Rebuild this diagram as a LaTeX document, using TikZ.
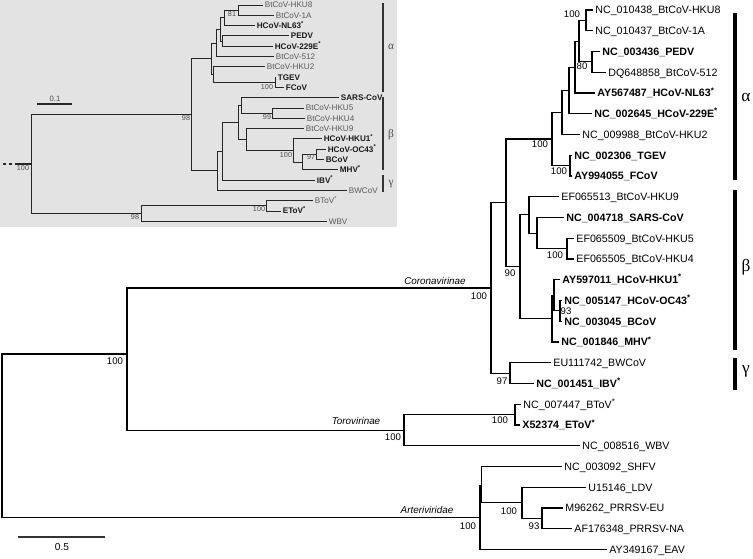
\documentclass[tikz,border=0pt]{standalone}
\usepackage{fontspec}
\setmainfont{Liberation Sans}
\newfontfamily\grk{Liberation Serif}
\newcommand{\vstar}{\textsuperscript{*}}

\begin{document}
\begin{tikzpicture}[x=0.75pt,y=-0.75pt,
  br/.style={line width=0.85pt, black},
  leaf/.style={anchor=west, inner sep=1.6pt, text height=5.8pt, text depth=0pt, font=\fontsize{8}{9}\selectfont},
  bleaf/.style={leaf, font=\fontsize{8}{9}\selectfont\bfseries},
  bs/.style={inner sep=0pt, font=\fontsize{7.2}{8}\selectfont},
  fam/.style={inner sep=0pt, font=\fontsize{7.4}{8}\selectfont\itshape},
  ibr/.style={line width=0.65pt, black!85},
  ileaf/.style={anchor=west, inner sep=1.2pt, text height=4.4pt, text depth=0pt, font=\fontsize{6.1}{7}\selectfont, text=black!65},
  ibold/.style={ileaf, text=black!90, font=\fontsize{6.1}{7}\selectfont\bfseries},
  ibs/.style={inner sep=0pt, font=\fontsize{5.4}{6}\selectfont, text=black!70},
  clade/.style={line width=2.6pt},
  greek/.style={inner sep=0pt, font=\grk\fontsize{13}{14}\selectfont},
  igreek/.style={inner sep=0pt, font=\grk\fontsize{8.5}{9}\selectfont, text=black!70},
]
\useasboundingbox (0,0) rectangle (753,558);

% inset
\fill[black!11] (0,0) rectangle (397,227);
\coordinate (istub) at (3,164.2);
\coordinate (istub2) at (18,164.2);
\coordinate (iroot) at (31,164.2);
\coordinate (icor) at (191,114.8);
\coordinate (ialp) at (211,58.8);
\coordinate (i5) at (216,43);
\coordinate (i4) at (220,29.5);
\coordinate (i2) at (224,17.9);
\coordinate (i1) at (238,10.15);
\coordinate (i3) at (222,41.05);
\coordinate (i6) at (213,74.5);
\coordinate (itf) at (275,82.25);
\coordinate (ibg) at (217,170.9);
\coordinate (ig) at (222,151.3);
\coordinate (ib) at (238,122.5);
\coordinate (ib1) at (241,105.4);
\coordinate (ib3) at (272,113.2);
\coordinate (ib2) at (246,139.6);
\coordinate (ib4) at (293,150.5);
\coordinate (ib5) at (302,162.1);
\coordinate (ib6) at (316,154.4);
\coordinate (itor) at (141,213.6);
\coordinate (ibt) at (266,205.9);

\draw[ibr, line width=1.4pt, dash pattern=on 2.4pt off 2pt] (istub) -- (istub2);
\draw[ibr, line width=1.4pt] (istub2) -- (iroot);
\foreach \p/\c in {iroot/icor, iroot/itor, icor/ialp, icor/ibg, ialp/i5, ialp/i6,
  i5/i4, i4/i2, i4/i3, i2/i1, i6/itf, ibg/ig, ig/ib, ib/ib1, ib/ib2, ib1/ib3,
  ib2/ib4, ib4/ib5, ib5/ib6, itor/ibt}
  \draw[ibr] (\p) |- (\c);

\foreach \p/\n/\xx/\i/\s/\t in {
  i1/k1/263/0/ileaf/BtCoV-HKU8,
  i1/k2/274/1/ileaf/BtCoV-1A,
  i2/k3/255/2/ibold/HCoV-NL63\vstar,
  i3/k4/289/3/ibold/PEDV,
  i3/k5/273/4/ibold/HCoV-229E\vstar,
  i5/k6/274/5/ileaf/BtCoV-512,
  i6/k7/265/6/ileaf/BtCoV-HKU2,
  itf/k8/276/7/ibold/TGEV,
  itf/k9/284/8/ibold/FCoV,
  ib1/k10/339/9/ibold/SARS-CoV,
  ib3/k11/304/10/ileaf/BtCoV-HKU5,
  ib3/k12/305/11/ileaf/BtCoV-HKU4,
  ib2/k13/304/12/ileaf/BtCoV-HKU9,
  ib4/k14/322/13/ibold/HCoV-HKU1\vstar,
  ib6/k15/326/14/ibold/HCoV-OC43\vstar,
  ib6/k16/324/15/ibold/BCoV,
  ib5/k17/338/16/ibold/MHV\vstar,
  ig/k18/315/17/ibold/IBV\vstar,
  ibg/k19/347/18/ileaf/BWCoV,
  ibt/k20/313/19/ileaf/BToV\vstar,
  ibt/k21/281/20/ibold/EToV\vstar,
  itor/k22/327/21/ileaf/WBV}
{
  \node[\s] (\n) at (\xx,{5+10.3*\i}) {\t};
  \draw[ibr] (\p) |- (\n.west);
}

\foreach \n/\xx/\yy/\t in {t1/23/168/100, t2/186/118/98, t3/232/14/81, t4/267/87/100,
  t5/267/117/99, t6/286/155/100, t7/311/157/97, t8/135/217/98, t9/259/209/100}
  \node[ibs] (\n) at (\xx,\yy) {\t};

\draw[ibr, line width=0.8pt] (37,104) -- (72,104);
\node[ibs, font=\fontsize{5.8}{6}\selectfont] (iscale) at (55,98.5) {0.1};
\draw[black!80, line width=1.5pt] (383,3) -- (383,92);
\draw[black!80, line width=1.5pt] (383,97) -- (383,170);
\draw[black!80, line width=1.5pt] (383,175) -- (383,192);
\node[igreek] (ia) at (391,47) {α};
\node[igreek] (ibeta) at (391,135) {β};
\node[igreek] (igam) at (391,184) {γ};

% main tree
\coordinate (root) at (2,435.5);
\coordinate (cvd) at (127,354);
\coordinate (cor) at (491,288);
\coordinate (ab) at (506,202.9);
\coordinate (alp) at (552,139);
\coordinate (m6) at (562,112.5);
\coordinate (m5) at (569,90.4);
\coordinate (m4) at (575,67.1);
\coordinate (m3) at (579,41.1);
\coordinate (m1) at (586,20.4);
\coordinate (m2) at (592,61.9);
\coordinate (tf) at (570,165.6);
\coordinate (bet) at (520,266.8);
\coordinate (b1) at (529,214.9);
\coordinate (b2) at (537,233.1);
\coordinate (b3) at (567,248.6);
\coordinate (b4) at (552,318.7);
\coordinate (c1) at (554,295.3);
\coordinate (b5) at (560,310.9);
\coordinate (gam) at (510,373.1);
\coordinate (tor) at (404,430.2);
\coordinate (bt) at (515,414.6);
\coordinate (art) at (480,517.5);
\coordinate (n1) at (481.5,485.5);
\coordinate (ld) at (522,502.8);
\coordinate (pr) at (542,518.4);

\foreach \p/\c in {root/cvd, root/art, cvd/cor, cvd/tor, cor/ab, cor/gam, ab/alp, ab/bet,
  alp/m6, alp/tf, m6/m5, m5/m4, m4/m3, m3/m1, m3/m2, bet/b1, bet/b4, b1/b2, b2/b3,
  b4/c1, c1/b5, tor/bt, art/n1, n1/ld, ld/pr}
  \draw[br] (\p) |- (\c);

\foreach \p/\n/\xx/\i/\s/\t in {
  m1/l1/593/0/leaf/NC\_010438\_BtCoV-HKU8,
  m1/l2/593/1/leaf/NC\_010437\_BtCoV-1A,
  m2/l3/600/2/bleaf/NC\_003436\_PEDV,
  m2/l4/606/3/leaf/DQ648858\_BtCoV-512,
  m4/l5/595/4/bleaf/AY567487\_HCoV-NL63\vstar,
  m5/l6/592/5/bleaf/NC\_002645\_HCoV-229E\vstar,
  m6/l7/580/6/leaf/NC\_009988\_BtCoV-HKU2,
  tf/l8/572/7/bleaf/NC\_002306\_TGEV,
  tf/l9/572/8/bleaf/AY994055\_FCoV,
  b1/l10/559/9/leaf/EF065513\_BtCoV-HKU9,
  b2/l11/564/10/bleaf/NC\_004718\_SARS-CoV,
  b3/l12/574/11/leaf/EF065509\_BtCoV-HKU5,
  b3/l13/574/12/leaf/EF065505\_BtCoV-HKU4,
  c1/l14/560/13/bleaf/AY597011\_HCoV-HKU1\vstar,
  b5/l15/562/14/bleaf/NC\_005147\_HCoV-OC43\vstar,
  b5/l16/562/15/bleaf/NC\_003045\_BCoV,
  b4/l17/559/16/bleaf/NC\_001846\_MHV\vstar,
  gam/l18/551/17/leaf/EU111742\_BWCoV,
  gam/l19/534/18/bleaf/NC\_001451\_IBV\vstar,
  bt/l20/521/19/leaf/NC\_007447\_BToV\vstar,
  bt/l21/520/20/bleaf/X52374\_EToV\vstar,
  tor/l22/580/21/leaf/NC\_008516\_WBV,
  n1/l23/562/22/leaf/NC\_003092\_SHFV,
  ld/l24/586/23/leaf/U15146\_LDV,
  pr/l25/563/24/leaf/M96262\_PRRSV-EU,
  pr/l26/572/25/leaf/AF176348\_PRRSV-NA,
  art/l27/607/26/leaf/AY349167\_EAV}
{
  \node[\s] (\n) at (\xx,{10+20.75*\i}) {\t};
  \draw[br] (\p) |- (\n.west);
}

\foreach \n/\xx/\yy/\t in {s1/115/361/100, s2/479/296/100, s3/540/144/100, s4/572/14/100,
  s5/582/66/80, s6/559/171/100, s7/510/273/90, s8/555/255/100, s9/566/311/93,
  s10/502/381/97, s11/393/437/100, s12/500/420/100, s13/468/526/100,
  s14/509/511/100, s15/534/526/93}
  \node[bs] (\n) at (\xx,\yy) {\t};

\node[fam] (fcor) at (435,281) {Coronavirinae};
\node[fam] (ftor) at (356,421) {Torovirinae};
\node[fam] (fart) at (427,510) {Arteriviridae};

\draw[br, black!80] (18,537) -- (105,537);
\node[bs, font=\fontsize{7.6}{8}\selectfont] (scale) at (62,546.5) {0.5};

\draw[clade] (735,13) -- (735,180);
\draw[clade] (735,190) -- (735,350);
\draw[clade] (735,358) -- (735,390);
\node[greek] (ga) at (746,97) {α};
\node[greek] (gb) at (746,267) {β};
\node[greek] (gg) at (746,371) {γ};
\end{tikzpicture}
\end{document}
